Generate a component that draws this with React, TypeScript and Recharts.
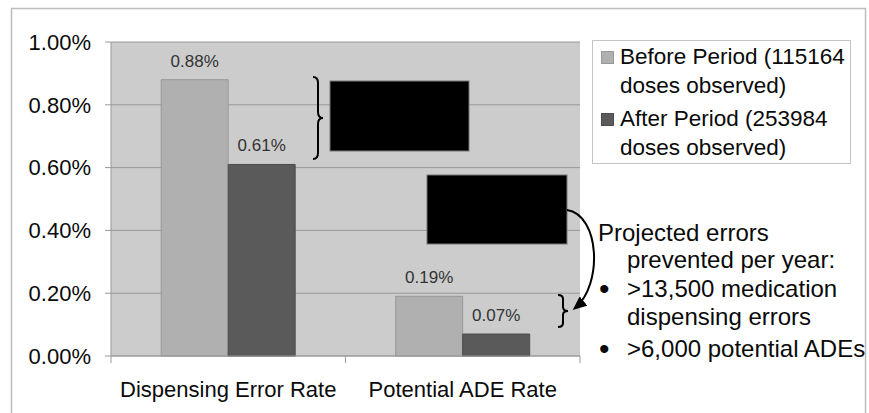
import React from 'react';
import { BarChart, Bar, XAxis, YAxis, CartesianGrid, Legend, LabelList } from 'recharts';

const categories = ['Dispensing Error Rate', 'Potential ADE Rate'];
const beforeValues = [0.88, 0.19];
const afterValues = [0.61, 0.07];
const yTicks = [0, 0.2, 0.4, 0.6, 0.8, 1.0];
const seriesNames = ['Before Period (115164\ndoses observed)', 'After Period (253984\ndoses observed)'];
const seriesColors = ['#b0b0b0', '#5a5a5a'];
const seriesStrokes = ['#999999', '#4d4d4d'];
const noteLines = ['Projected errors', 'prevented per year:', '>13,500 medication', 'dispensing errors', '>6,000 potential ADEs'];

const FONT = '"Liberation Sans", Arial, sans-serif';

const data = categories.map((name, i) => ({
  name,
  before: beforeValues[i],
  after: afterValues[i],
}));

const CategoryTick = (props: any) => {
  const { x, y, payload, index } = props;
  const half = payload.offset || 0;
  const axisY = y - 25;
  return (
    <g>
      {index === 0 && <line x1={x - half} x2={x - half} y1={axisY} y2={axisY + 7} stroke="#999" />}
      <line x1={x + half} x2={x + half} y1={axisY} y2={axisY + 7} stroke="#999" />
      <text x={x} y={y} dy="0.71em" textAnchor="middle" fontSize={22} fill="#0a0a0a" fontFamily={FONT}>
        {payload.value}
      </text>
    </g>
  );
};

const LegendBox = () => (
  <div
    style={{
      width: 257,
      height: 121,
      background: '#fff',
      border: '1px solid #c4c4c4',
      fontFamily: FONT,
      fontSize: 22.5,
      color: '#0a0a0a',
      paddingTop: 1,
      boxSizing: 'content-box',
    }}
  >
    {seriesNames.map((s, i) => (
      <div key={i} style={{ position: 'relative', paddingLeft: 27, marginBottom: 4, lineHeight: '29px' }}>
        <span
          style={{
            position: 'absolute',
            left: 8,
            top: 9,
            width: 11,
            height: 11,
            background: seriesColors[i],
            border: `1px solid ${seriesStrokes[i]}`,
          }}
        />
        {s.split('\n').map((line, j) => (
          <div key={j}>{line}</div>
        ))}
      </div>
    ))}
  </div>
);

const Overlay = () => (
  <svg width={869} height={413} style={{ position: 'absolute', left: 0, top: 0, pointerEvents: 'none' }}>
    <defs>
      <marker id="arrowHead" markerWidth="14" markerHeight="12" refX="11" refY="6" orient="auto" markerUnits="userSpaceOnUse">
        <path d="M0,0 L14,6 L0,12 z" fill="#000" />
      </marker>
    </defs>
    <rect x={11.5} y={8.5} width={854} height={420} fill="none" stroke="#bdbdbd" strokeWidth={1.5} />
    <rect x={330} y={81} width={139} height={70} fill="#000" stroke="#777" />
    <rect x={427} y={175} width={140} height={69} fill="#000" stroke="#777" />
    <path
      d="M313,77 Q318,77 318,83 L318,112 Q318,118 323,118 Q318,118 318,124 L318,153 Q318,159 313,159"
      fill="none"
      stroke="#000"
      strokeWidth={2}
    />
    <path
      d="M558,295 Q563,295 563,299 L563,307 Q563,311 568,311 Q563,311 563,315 L563,323 Q563,327 558,327"
      fill="none"
      stroke="#000"
      strokeWidth={2}
    />
    <path d="M567,210 C600,215 603,285 575,308" fill="none" stroke="#000" strokeWidth={2} markerEnd="url(#arrowHead)" />
    <g fontFamily={FONT} fontSize={24} fill="#0a0a0a">
      <text x={598} y={241}>{noteLines[0]}</text>
      <text x={627} y={268}>{noteLines[1]}</text>
      <text x={599} y={299} fontSize={30}>•</text>
      <text x={627} y={297}>{noteLines[2]}</text>
      <text x={627} y={325}>{noteLines[3]}</text>
      <text x={599} y={359} fontSize={30}>•</text>
      <text x={627} y={357}>{noteLines[4]}</text>
    </g>
  </svg>
);

export default function App() {
  return (
    <div style={{ position: 'absolute', left: 0, top: 0, width: 869, height: 413, background: '#fff' }}>
      <BarChart
        width={869}
        height={413}
        data={data}
        margin={{ top: 42, right: 289, left: 0, bottom: 0 }}
        barCategoryGap="21.4%"
        barGap={0}
      >
        <CartesianGrid vertical={false} stroke="#999" fill="#cccccc" />
        <XAxis
          dataKey="name"
          height={57}
          axisLine={{ stroke: '#999' }}
          tickLine={false}
          tickSize={6}
          tickMargin={19}
          tick={<CategoryTick />}
          interval={0}
        />
        <YAxis
          width={111}
          domain={[0, 1]}
          ticks={yTicks}
          tickFormatter={(v: number) => `${v.toFixed(2)}%`}
          axisLine={{ stroke: '#999' }}
          tickLine={{ stroke: '#999' }}
          tickSize={6}
          tickMargin={14}
          tick={{ fontSize: 22, fill: '#0a0a0a', fontFamily: FONT }}
        />
        <Legend
          layout="horizontal"
          verticalAlign="middle"
          align="center"
          content={() => <LegendBox />}
          wrapperStyle={{ position: 'absolute', left: 592, top: 40, width: 259, height: 123 }}
        />
        <Bar dataKey="before" name={seriesNames[0]} fill={seriesColors[0]} stroke={seriesStrokes[0]} isAnimationActive={false}>
          <LabelList
            dataKey="before"
            position="top"
            offset={13}
            formatter={(v: any) => `${Number(v).toFixed(2)}%`}
            style={{ fontSize: 17, fill: '#333', fontFamily: FONT }}
          />
        </Bar>
        <Bar dataKey="after" name={seriesNames[1]} fill={seriesColors[1]} stroke={seriesStrokes[1]} isAnimationActive={false}>
          <LabelList
            dataKey="after"
            position="top"
            offset={13}
            formatter={(v: any) => `${Number(v).toFixed(2)}%`}
            style={{ fontSize: 17, fill: '#333', fontFamily: FONT }}
          />
        </Bar>
      </BarChart>
      <Overlay />
    </div>
  );
}
